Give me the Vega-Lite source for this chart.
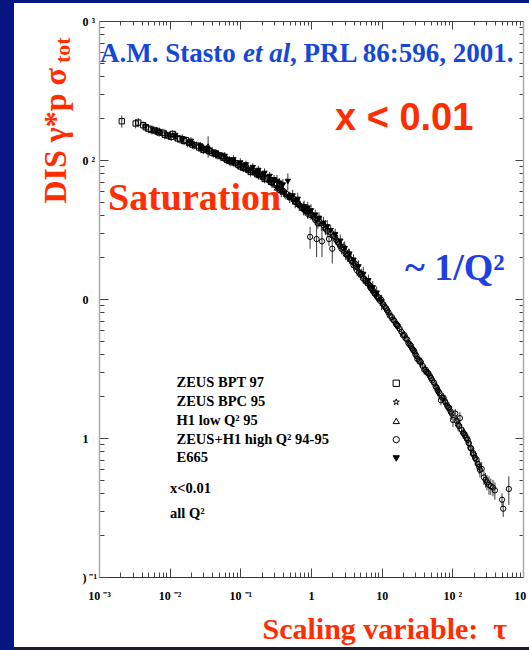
{
  "$schema": "https://vega.github.io/schema/vega-lite/v6.json",
  "width": 424,
  "height": 556,
  "autosize": {"type": "none"},
  "padding": {"left": 99, "top": 21, "right": 6, "bottom": 73},
  "background": "white",
  "config": {"view": {"stroke": null}, "axis": {"grid": false}},
  "datasets": {
    "pts": [
      {"tau":0.0021,"sigma":190,"err":19,"experiment":"ZEUS BPT 97"},
      {"tau":0.0033,"sigma":183,"err":14,"experiment":"ZEUS BPT 97"},
      {"tau":0.0036,"sigma":186,"err":14,"experiment":"ZEUS BPT 97"},
      {"tau":0.0042,"sigma":178,"err":12,"experiment":"ZEUS BPT 97"},
      {"tau":0.0046,"sigma":172,"err":12,"experiment":"ZEUS BPT 97"},
      {"tau":0.0050,"sigma":168,"err":12,"experiment":"ZEUS BPT 97"},
      {"tau":0.0055,"sigma":165,"err":12,"experiment":"ZEUS BPT 97"},
      {"tau":0.0062,"sigma":163,"err":11,"experiment":"ZEUS BPT 97"},
      {"tau":0.0068,"sigma":160,"err":11,"experiment":"ZEUS BPT 97"},
      {"tau":0.0071,"sigma":158,"err":11,"experiment":"ZEUS BPT 97"},
      {"tau":0.0080,"sigma":157,"err":11,"experiment":"ZEUS BPT 97"},
      {"tau":0.0085,"sigma":152,"err":11,"experiment":"ZEUS BPT 97"},
      {"tau":0.0095,"sigma":150,"err":10,"experiment":"ZEUS BPT 97"},
      {"tau":0.0105,"sigma":147,"err":10,"experiment":"ZEUS BPT 97"},
      {"tau":0.011,"sigma":154,"err":10,"experiment":"ZEUS BPT 97"},
      {"tau":0.013,"sigma":143,"err":10,"experiment":"ZEUS BPT 97"},
      {"tau":0.014,"sigma":141,"err":10,"experiment":"ZEUS BPT 97"},
      {"tau":0.016,"sigma":137,"err":9,"experiment":"ZEUS BPT 97"},
      {"tau":0.017,"sigma":139,"err":9,"experiment":"ZEUS BPT 97"},
      {"tau":0.019,"sigma":133,"err":9,"experiment":"ZEUS BPT 97"},
      {"tau":0.021,"sigma":129,"err":9,"experiment":"ZEUS BPT 97"},
      {"tau":0.024,"sigma":127,"err":9,"experiment":"ZEUS BPT 97"},
      {"tau":0.026,"sigma":123,"err":9,"experiment":"ZEUS BPT 97"},
      {"tau":0.028,"sigma":122,"err":8,"experiment":"ZEUS BPT 97"},
      {"tau":0.030,"sigma":118,"err":8,"experiment":"ZEUS BPT 97"},
      {"tau":0.033,"sigma":120,"err":8,"experiment":"ZEUS BPT 97"},
      {"tau":0.036,"sigma":116,"err":8,"experiment":"ZEUS BPT 97"},
      {"tau":0.040,"sigma":113,"err":8,"experiment":"ZEUS BPT 97"},
      {"tau":0.045,"sigma":111,"err":8,"experiment":"ZEUS BPT 97"},
      {"tau":0.050,"sigma":108,"err":7,"experiment":"ZEUS BPT 97"},
      {"tau":0.055,"sigma":107,"err":7,"experiment":"ZEUS BPT 97"},
      {"tau":0.058,"sigma":104,"err":7,"experiment":"ZEUS BPT 97"},
      {"tau":0.065,"sigma":100,"err":7,"experiment":"ZEUS BPT 97"},
      {"tau":0.070,"sigma":99,"err":7,"experiment":"ZEUS BPT 97"},
      {"tau":0.075,"sigma":98,"err":7,"experiment":"ZEUS BPT 97"},
      {"tau":0.085,"sigma":95,"err":7,"experiment":"ZEUS BPT 97"},
      {"tau":0.095,"sigma":92,"err":7,"experiment":"ZEUS BPT 97"},
      {"tau":0.10,"sigma":90,"err":6,"experiment":"ZEUS BPT 97"},
      {"tau":0.11,"sigma":88,"err":6,"experiment":"ZEUS BPT 97"},
      {"tau":0.12,"sigma":87,"err":6,"experiment":"ZEUS BPT 97"},
      {"tau":0.13,"sigma":85,"err":6,"experiment":"ZEUS BPT 97"},
      {"tau":0.14,"sigma":82,"err":6,"experiment":"ZEUS BPT 97"},
      {"tau":0.15,"sigma":83,"err":6,"experiment":"ZEUS BPT 97"},
      {"tau":0.17,"sigma":80,"err":6,"experiment":"ZEUS BPT 97"},
      {"tau":0.18,"sigma":80,"err":6,"experiment":"ZEUS BPT 97"},
      {"tau":0.19,"sigma":78,"err":6,"experiment":"ZEUS BPT 97"},
      {"tau":0.21,"sigma":76,"err":6,"experiment":"ZEUS BPT 97"},
      {"tau":0.22,"sigma":73,"err":5,"experiment":"ZEUS BPT 97"},
      {"tau":0.24,"sigma":74,"err":5,"experiment":"ZEUS BPT 97"},
      {"tau":0.27,"sigma":70,"err":5,"experiment":"ZEUS BPT 97"},
      {"tau":0.30,"sigma":68,"err":5,"experiment":"ZEUS BPT 97"},
      {"tau":0.33,"sigma":66,"err":5,"experiment":"ZEUS BPT 97"},
      {"tau":0.37,"sigma":61,"err":5,"experiment":"ZEUS BPT 97"},
      {"tau":0.0045,"sigma":175,"err":12,"experiment":"ZEUS BPC 95"},
      {"tau":0.0058,"sigma":165,"err":12,"experiment":"ZEUS BPC 95"},
      {"tau":0.0065,"sigma":162,"err":11,"experiment":"ZEUS BPC 95"},
      {"tau":0.0072,"sigma":160,"err":11,"experiment":"ZEUS BPC 95"},
      {"tau":0.0090,"sigma":153,"err":11,"experiment":"ZEUS BPC 95"},
      {"tau":0.010,"sigma":150,"err":10,"experiment":"ZEUS BPC 95"},
      {"tau":0.012,"sigma":146,"err":10,"experiment":"ZEUS BPC 95"},
      {"tau":0.015,"sigma":140,"err":10,"experiment":"ZEUS BPC 95"},
      {"tau":0.018,"sigma":132,"err":9,"experiment":"ZEUS BPC 95"},
      {"tau":0.020,"sigma":133,"err":9,"experiment":"ZEUS BPC 95"},
      {"tau":0.022,"sigma":128,"err":9,"experiment":"ZEUS BPC 95"},
      {"tau":0.027,"sigma":125,"err":9,"experiment":"ZEUS BPC 95"},
      {"tau":0.030,"sigma":122,"err":8,"experiment":"ZEUS BPC 95"},
      {"tau":0.034,"sigma":118,"err":8,"experiment":"ZEUS BPC 95"},
      {"tau":0.042,"sigma":112,"err":8,"experiment":"ZEUS BPC 95"},
      {"tau":0.047,"sigma":109,"err":8,"experiment":"ZEUS BPC 95"},
      {"tau":0.052,"sigma":106,"err":7,"experiment":"ZEUS BPC 95"},
      {"tau":0.065,"sigma":101,"err":7,"experiment":"ZEUS BPC 95"},
      {"tau":0.072,"sigma":97,"err":7,"experiment":"ZEUS BPC 95"},
      {"tau":0.080,"sigma":97,"err":7,"experiment":"ZEUS BPC 95"},
      {"tau":0.10,"sigma":92,"err":6,"experiment":"ZEUS BPC 95"},
      {"tau":0.115,"sigma":90,"err":6,"experiment":"ZEUS BPC 95"},
      {"tau":0.13,"sigma":86,"err":6,"experiment":"ZEUS BPC 95"},
      {"tau":0.16,"sigma":81,"err":6,"experiment":"ZEUS BPC 95"},
      {"tau":0.18,"sigma":79,"err":6,"experiment":"ZEUS BPC 95"},
      {"tau":0.20,"sigma":77,"err":5,"experiment":"ZEUS BPC 95"},
      {"tau":0.26,"sigma":71,"err":5,"experiment":"ZEUS BPC 95"},
      {"tau":0.29,"sigma":68,"err":5,"experiment":"ZEUS BPC 95"},
      {"tau":0.33,"sigma":64,"err":5,"experiment":"ZEUS BPC 95"},
      {"tau":0.38,"sigma":61,"err":5,"experiment":"ZEUS BPC 95"},
      {"tau":0.42,"sigma":58,"err":5,"experiment":"ZEUS BPC 95"},
      {"tau":0.48,"sigma":55,"err":4,"experiment":"ZEUS BPC 95"},
      {"tau":0.55,"sigma":52,"err":4,"experiment":"ZEUS BPC 95"},
      {"tau":0.62,"sigma":50,"err":4,"experiment":"ZEUS BPC 95"},
      {"tau":0.70,"sigma":47,"err":4,"experiment":"ZEUS BPC 95"},
      {"tau":0.80,"sigma":44,"err":4,"experiment":"ZEUS BPC 95"},
      {"tau":0.90,"sigma":42,"err":4,"experiment":"ZEUS BPC 95"},
      {"tau":0.030,"sigma":121,"err":8,"experiment":"H1 low Q² 95"},
      {"tau":0.035,"sigma":126,"err":22,"experiment":"H1 low Q² 95"},
      {"tau":0.040,"sigma":116,"err":8,"experiment":"H1 low Q² 95"},
      {"tau":0.045,"sigma":110,"err":8,"experiment":"H1 low Q² 95"},
      {"tau":0.060,"sigma":103,"err":7,"experiment":"H1 low Q² 95"},
      {"tau":0.070,"sigma":99,"err":7,"experiment":"H1 low Q² 95"},
      {"tau":0.085,"sigma":96,"err":7,"experiment":"H1 low Q² 95"},
      {"tau":0.11,"sigma":89,"err":7,"experiment":"H1 low Q² 95"},
      {"tau":0.13,"sigma":87,"err":6,"experiment":"H1 low Q² 95"},
      {"tau":0.15,"sigma":84,"err":6,"experiment":"H1 low Q² 95"},
      {"tau":0.18,"sigma":78,"err":6,"experiment":"H1 low Q² 95"},
      {"tau":0.21,"sigma":76,"err":6,"experiment":"H1 low Q² 95"},
      {"tau":0.25,"sigma":72,"err":6,"experiment":"H1 low Q² 95"},
      {"tau":0.28,"sigma":69,"err":6,"experiment":"H1 low Q² 95"},
      {"tau":0.33,"sigma":63,"err":6,"experiment":"H1 low Q² 95"},
      {"tau":0.38,"sigma":60,"err":6,"experiment":"H1 low Q² 95"},
      {"tau":0.44,"sigma":57,"err":5,"experiment":"H1 low Q² 95"},
      {"tau":0.50,"sigma":54,"err":5,"experiment":"H1 low Q² 95"},
      {"tau":0.60,"sigma":50,"err":5,"experiment":"H1 low Q² 95"},
      {"tau":0.68,"sigma":48,"err":5,"experiment":"H1 low Q² 95"},
      {"tau":0.78,"sigma":45,"err":5,"experiment":"H1 low Q² 95"},
      {"tau":0.90,"sigma":43,"err":5,"experiment":"H1 low Q² 95"},
      {"tau":1.05,"sigma":41,"err":4,"experiment":"H1 low Q² 95"},
      {"tau":1.2,"sigma":38,"err":4,"experiment":"H1 low Q² 95"},
      {"tau":1.4,"sigma":35,"err":4,"experiment":"H1 low Q² 95"},
      {"tau":1.6,"sigma":33,"err":4,"experiment":"H1 low Q² 95"},
      {"tau":0.35,"sigma":63,"err":4,"experiment":"ZEUS+H1 high Q² 94-95"},
      {"tau":0.40,"sigma":60,"err":4,"experiment":"ZEUS+H1 high Q² 94-95"},
      {"tau":0.45,"sigma":57,"err":4,"experiment":"ZEUS+H1 high Q² 94-95"},
      {"tau":0.50,"sigma":55,"err":4,"experiment":"ZEUS+H1 high Q² 94-95"},
      {"tau":0.55,"sigma":53,"err":4,"experiment":"ZEUS+H1 high Q² 94-95"},
      {"tau":0.60,"sigma":50,"err":4,"experiment":"ZEUS+H1 high Q² 94-95"},
      {"tau":0.65,"sigma":49,"err":4,"experiment":"ZEUS+H1 high Q² 94-95"},
      {"tau":0.70,"sigma":47,"err":3,"experiment":"ZEUS+H1 high Q² 94-95"},
      {"tau":0.75,"sigma":45,"err":3,"experiment":"ZEUS+H1 high Q² 94-95"},
      {"tau":0.80,"sigma":44,"err":3,"experiment":"ZEUS+H1 high Q² 94-95"},
      {"tau":0.85,"sigma":43,"err":3,"experiment":"ZEUS+H1 high Q² 94-95"},
      {"tau":0.90,"sigma":41,"err":3,"experiment":"ZEUS+H1 high Q² 94-95"},
      {"tau":0.97,"sigma":28,"err":5,"experiment":"ZEUS+H1 high Q² 94-95"},
      {"tau":1.0,"sigma":40,"err":3,"experiment":"ZEUS+H1 high Q² 94-95"},
      {"tau":1.1,"sigma":39,"err":3,"experiment":"ZEUS+H1 high Q² 94-95"},
      {"tau":1.15,"sigma":37,"err":3,"experiment":"ZEUS+H1 high Q² 94-95"},
      {"tau":1.2,"sigma":27,"err":7,"experiment":"ZEUS+H1 high Q² 94-95"},
      {"tau":1.25,"sigma":35,"err":3,"experiment":"ZEUS+H1 high Q² 94-95"},
      {"tau":1.3,"sigma":36,"err":3,"experiment":"ZEUS+H1 high Q² 94-95"},
      {"tau":1.43,"sigma":26,"err":6,"experiment":"ZEUS+H1 high Q² 94-95"},
      {"tau":1.5,"sigma":34,"err":3,"experiment":"ZEUS+H1 high Q² 94-95"},
      {"tau":1.6,"sigma":32,"err":3,"experiment":"ZEUS+H1 high Q² 94-95"},
      {"tau":1.7,"sigma":31,"err":3,"experiment":"ZEUS+H1 high Q² 94-95"},
      {"tau":1.8,"sigma":27,"err":3,"experiment":"ZEUS+H1 high Q² 94-95"},
      {"tau":1.9,"sigma":30,"err":2.5,"experiment":"ZEUS+H1 high Q² 94-95"},
      {"tau":2.0,"sigma":23,"err":5,"experiment":"ZEUS+H1 high Q² 94-95"},
      {"tau":2.1,"sigma":28.5,"err":2.5,"experiment":"ZEUS+H1 high Q² 94-95"},
      {"tau":2.2,"sigma":28,"err":2.5,"experiment":"ZEUS+H1 high Q² 94-95"},
      {"tau":2.3,"sigma":26.5,"err":2,"experiment":"ZEUS+H1 high Q² 94-95"},
      {"tau":2.4,"sigma":25.5,"err":2,"experiment":"ZEUS+H1 high Q² 94-95"},
      {"tau":2.5,"sigma":25,"err":2,"experiment":"ZEUS+H1 high Q² 94-95"},
      {"tau":2.6,"sigma":24,"err":2,"experiment":"ZEUS+H1 high Q² 94-95"},
      {"tau":2.7,"sigma":23,"err":2,"experiment":"ZEUS+H1 high Q² 94-95"},
      {"tau":2.9,"sigma":23.5,"err":2,"experiment":"ZEUS+H1 high Q² 94-95"},
      {"tau":3.0,"sigma":22,"err":2,"experiment":"ZEUS+H1 high Q² 94-95"},
      {"tau":3.1,"sigma":21,"err":2,"experiment":"ZEUS+H1 high Q² 94-95"},
      {"tau":3.3,"sigma":20.5,"err":2,"experiment":"ZEUS+H1 high Q² 94-95"},
      {"tau":3.4,"sigma":21,"err":2,"experiment":"ZEUS+H1 high Q² 94-95"},
      {"tau":3.5,"sigma":19.5,"err":1.6,"experiment":"ZEUS+H1 high Q² 94-95"},
      {"tau":3.7,"sigma":19,"err":1.5,"experiment":"ZEUS+H1 high Q² 94-95"},
      {"tau":3.9,"sigma":18.5,"err":1.5,"experiment":"ZEUS+H1 high Q² 94-95"},
      {"tau":4.0,"sigma":17.5,"err":1.5,"experiment":"ZEUS+H1 high Q² 94-95"},
      {"tau":4.2,"sigma":18,"err":1.5,"experiment":"ZEUS+H1 high Q² 94-95"},
      {"tau":4.4,"sigma":17,"err":1.4,"experiment":"ZEUS+H1 high Q² 94-95"},
      {"tau":4.5,"sigma":16,"err":1.4,"experiment":"ZEUS+H1 high Q² 94-95"},
      {"tau":4.8,"sigma":15.5,"err":1.3,"experiment":"ZEUS+H1 high Q² 94-95"},
      {"tau":5.0,"sigma":15,"err":1.3,"experiment":"ZEUS+H1 high Q² 94-95"},
      {"tau":5.2,"sigma":15.2,"err":1.3,"experiment":"ZEUS+H1 high Q² 94-95"},
      {"tau":5.5,"sigma":14,"err":1.2,"experiment":"ZEUS+H1 high Q² 94-95"},
      {"tau":5.8,"sigma":13.8,"err":1.1,"experiment":"ZEUS+H1 high Q² 94-95"},
      {"tau":6.0,"sigma":13.5,"err":1.1,"experiment":"ZEUS+H1 high Q² 94-95"},
      {"tau":6.3,"sigma":13,"err":1.1,"experiment":"ZEUS+H1 high Q² 94-95"},
      {"tau":6.5,"sigma":12.8,"err":1.0,"experiment":"ZEUS+H1 high Q² 94-95"},
      {"tau":6.8,"sigma":12.5,"err":1.0,"experiment":"ZEUS+H1 high Q² 94-95"},
      {"tau":7.0,"sigma":12,"err":1.0,"experiment":"ZEUS+H1 high Q² 94-95"},
      {"tau":7.2,"sigma":11.8,"err":1.0,"experiment":"ZEUS+H1 high Q² 94-95"},
      {"tau":7.5,"sigma":11.5,"err":1.0,"experiment":"ZEUS+H1 high Q² 94-95"},
      {"tau":8.0,"sigma":11,"err":0.9,"experiment":"ZEUS+H1 high Q² 94-95"},
      {"tau":8.2,"sigma":10.8,"err":0.9,"experiment":"ZEUS+H1 high Q² 94-95"},
      {"tau":8.5,"sigma":10.5,"err":0.9,"experiment":"ZEUS+H1 high Q² 94-95"},
      {"tau":9.0,"sigma":10.3,"err":0.8,"experiment":"ZEUS+H1 high Q² 94-95"},
      {"tau":9.5,"sigma":9.7,"err":0.8,"experiment":"ZEUS+H1 high Q² 94-95"},
      {"tau":9.8,"sigma":9.9,"err":0.8,"experiment":"ZEUS+H1 high Q² 94-95"},
      {"tau":10.5,"sigma":9.2,"err":0.7,"experiment":"ZEUS+H1 high Q² 94-95"},
      {"tau":11,"sigma":8.8,"err":0.7,"experiment":"ZEUS+H1 high Q² 94-95"},
      {"tau":11.5,"sigma":8.6,"err":0.7,"experiment":"ZEUS+H1 high Q² 94-95"},
      {"tau":12,"sigma":8.3,"err":0.6,"experiment":"ZEUS+H1 high Q² 94-95"},
      {"tau":12.5,"sigma":8.0,"err":0.6,"experiment":"ZEUS+H1 high Q² 94-95"},
      {"tau":13,"sigma":7.6,"err":0.6,"experiment":"ZEUS+H1 high Q² 94-95"},
      {"tau":14,"sigma":7.4,"err":0.6,"experiment":"ZEUS+H1 high Q² 94-95"},
      {"tau":14.5,"sigma":7.1,"err":0.5,"experiment":"ZEUS+H1 high Q² 94-95"},
      {"tau":15,"sigma":7.0,"err":0.5,"experiment":"ZEUS+H1 high Q² 94-95"},
      {"tau":16,"sigma":6.6,"err":0.5,"experiment":"ZEUS+H1 high Q² 94-95"},
      {"tau":16.5,"sigma":6.5,"err":0.5,"experiment":"ZEUS+H1 high Q² 94-95"},
      {"tau":17,"sigma":6.4,"err":0.5,"experiment":"ZEUS+H1 high Q² 94-95"},
      {"tau":18,"sigma":6.1,"err":0.5,"experiment":"ZEUS+H1 high Q² 94-95"},
      {"tau":19,"sigma":5.8,"err":0.4,"experiment":"ZEUS+H1 high Q² 94-95"},
      {"tau":20,"sigma":5.5,"err":0.4,"experiment":"ZEUS+H1 high Q² 94-95"},
      {"tau":21,"sigma":5.5,"err":0.4,"experiment":"ZEUS+H1 high Q² 94-95"},
      {"tau":22,"sigma":5.2,"err":0.4,"experiment":"ZEUS+H1 high Q² 94-95"},
      {"tau":23,"sigma":5.1,"err":0.4,"experiment":"ZEUS+H1 high Q² 94-95"},
      {"tau":24,"sigma":4.8,"err":0.35,"experiment":"ZEUS+H1 high Q² 94-95"},
      {"tau":25,"sigma":4.7,"err":0.35,"experiment":"ZEUS+H1 high Q² 94-95"},
      {"tau":26,"sigma":4.6,"err":0.35,"experiment":"ZEUS+H1 high Q² 94-95"},
      {"tau":27,"sigma":4.4,"err":0.3,"experiment":"ZEUS+H1 high Q² 94-95"},
      {"tau":28,"sigma":4.3,"err":0.3,"experiment":"ZEUS+H1 high Q² 94-95"},
      {"tau":29,"sigma":4.2,"err":0.3,"experiment":"ZEUS+H1 high Q² 94-95"},
      {"tau":30,"sigma":4.0,"err":0.3,"experiment":"ZEUS+H1 high Q² 94-95"},
      {"tau":31,"sigma":3.9,"err":0.3,"experiment":"ZEUS+H1 high Q² 94-95"},
      {"tau":32,"sigma":3.7,"err":0.3,"experiment":"ZEUS+H1 high Q² 94-95"},
      {"tau":34,"sigma":3.6,"err":0.25,"experiment":"ZEUS+H1 high Q² 94-95"},
      {"tau":35,"sigma":3.55,"err":0.3,"experiment":"ZEUS+H1 high Q² 94-95"},
      {"tau":36,"sigma":3.5,"err":0.3,"experiment":"ZEUS+H1 high Q² 94-95"},
      {"tau":38,"sigma":3.3,"err":0.25,"experiment":"ZEUS+H1 high Q² 94-95"},
      {"tau":40,"sigma":3.1,"err":0.25,"experiment":"ZEUS+H1 high Q² 94-95"},
      {"tau":42,"sigma":3.1,"err":0.25,"experiment":"ZEUS+H1 high Q² 94-95"},
      {"tau":43,"sigma":3.0,"err":0.2,"experiment":"ZEUS+H1 high Q² 94-95"},
      {"tau":45,"sigma":2.95,"err":0.2,"experiment":"ZEUS+H1 high Q² 94-95"},
      {"tau":46,"sigma":2.9,"err":0.2,"experiment":"ZEUS+H1 high Q² 94-95"},
      {"tau":48,"sigma":2.8,"err":0.2,"experiment":"ZEUS+H1 high Q² 94-95"},
      {"tau":50,"sigma":2.7,"err":0.2,"experiment":"ZEUS+H1 high Q² 94-95"},
      {"tau":52,"sigma":2.6,"err":0.2,"experiment":"ZEUS+H1 high Q² 94-95"},
      {"tau":55,"sigma":2.5,"err":0.2,"experiment":"ZEUS+H1 high Q² 94-95"},
      {"tau":58,"sigma":2.35,"err":0.2,"experiment":"ZEUS+H1 high Q² 94-95"},
      {"tau":60,"sigma":2.3,"err":0.2,"experiment":"ZEUS+H1 high Q² 94-95"},
      {"tau":62,"sigma":2.2,"err":0.2,"experiment":"ZEUS+H1 high Q² 94-95"},
      {"tau":64,"sigma":2.15,"err":0.2,"experiment":"ZEUS+H1 high Q² 94-95"},
      {"tau":66,"sigma":2.1,"err":0.2,"experiment":"ZEUS+H1 high Q² 94-95"},
      {"tau":69,"sigma":1.87,"err":0.15,"experiment":"ZEUS+H1 high Q² 94-95"},
      {"tau":72,"sigma":1.95,"err":0.15,"experiment":"ZEUS+H1 high Q² 94-95"},
      {"tau":75,"sigma":1.95,"err":0.15,"experiment":"ZEUS+H1 high Q² 94-95"},
      {"tau":78,"sigma":1.85,"err":0.15,"experiment":"ZEUS+H1 high Q² 94-95"},
      {"tau":80,"sigma":1.8,"err":0.15,"experiment":"ZEUS+H1 high Q² 94-95"},
      {"tau":85,"sigma":1.7,"err":0.15,"experiment":"ZEUS+H1 high Q² 94-95"},
      {"tau":88,"sigma":1.65,"err":0.15,"experiment":"ZEUS+H1 high Q² 94-95"},
      {"tau":90,"sigma":1.65,"err":0.15,"experiment":"ZEUS+H1 high Q² 94-95"},
      {"tau":95,"sigma":1.55,"err":0.15,"experiment":"ZEUS+H1 high Q² 94-95"},
      {"tau":98,"sigma":1.5,"err":0.15,"experiment":"ZEUS+H1 high Q² 94-95"},
      {"tau":102,"sigma":1.35,"err":0.15,"experiment":"ZEUS+H1 high Q² 94-95"},
      {"tau":110,"sigma":1.5,"err":0.12,"experiment":"ZEUS+H1 high Q² 94-95"},
      {"tau":115,"sigma":1.33,"err":0.12,"experiment":"ZEUS+H1 high Q² 94-95"},
      {"tau":120,"sigma":1.25,"err":0.12,"experiment":"ZEUS+H1 high Q² 94-95"},
      {"tau":125,"sigma":1.22,"err":0.12,"experiment":"ZEUS+H1 high Q² 94-95"},
      {"tau":128,"sigma":1.39,"err":0.15,"experiment":"ZEUS+H1 high Q² 94-95"},
      {"tau":135,"sigma":1.15,"err":0.1,"experiment":"ZEUS+H1 high Q² 94-95"},
      {"tau":142,"sigma":1.09,"err":0.1,"experiment":"ZEUS+H1 high Q² 94-95"},
      {"tau":145,"sigma":1.08,"err":0.1,"experiment":"ZEUS+H1 high Q² 94-95"},
      {"tau":150,"sigma":1.05,"err":0.1,"experiment":"ZEUS+H1 high Q² 94-95"},
      {"tau":160,"sigma":1.0,"err":0.1,"experiment":"ZEUS+H1 high Q² 94-95"},
      {"tau":165,"sigma":0.97,"err":0.1,"experiment":"ZEUS+H1 high Q² 94-95"},
      {"tau":170,"sigma":0.92,"err":0.1,"experiment":"ZEUS+H1 high Q² 94-95"},
      {"tau":180,"sigma":0.85,"err":0.1,"experiment":"ZEUS+H1 high Q² 94-95"},
      {"tau":185,"sigma":0.84,"err":0.1,"experiment":"ZEUS+H1 high Q² 94-95"},
      {"tau":196,"sigma":0.78,"err":0.08,"experiment":"ZEUS+H1 high Q² 94-95"},
      {"tau":200,"sigma":0.76,"err":0.08,"experiment":"ZEUS+H1 high Q² 94-95"},
      {"tau":210,"sigma":0.72,"err":0.08,"experiment":"ZEUS+H1 high Q² 94-95"},
      {"tau":220,"sigma":0.7,"err":0.08,"experiment":"ZEUS+H1 high Q² 94-95"},
      {"tau":230,"sigma":0.65,"err":0.07,"experiment":"ZEUS+H1 high Q² 94-95"},
      {"tau":240,"sigma":0.62,"err":0.07,"experiment":"ZEUS+H1 high Q² 94-95"},
      {"tau":246,"sigma":0.59,"err":0.07,"experiment":"ZEUS+H1 high Q² 94-95"},
      {"tau":260,"sigma":0.6,"err":0.07,"experiment":"ZEUS+H1 high Q² 94-95"},
      {"tau":280,"sigma":0.52,"err":0.06,"experiment":"ZEUS+H1 high Q² 94-95"},
      {"tau":295,"sigma":0.5,"err":0.06,"experiment":"ZEUS+H1 high Q² 94-95"},
      {"tau":309,"sigma":0.48,"err":0.06,"experiment":"ZEUS+H1 high Q² 94-95"},
      {"tau":330,"sigma":0.46,"err":0.07,"experiment":"ZEUS+H1 high Q² 94-95"},
      {"tau":350,"sigma":0.45,"err":0.06,"experiment":"ZEUS+H1 high Q² 94-95"},
      {"tau":376,"sigma":0.44,"err":0.06,"experiment":"ZEUS+H1 high Q² 94-95"},
      {"tau":400,"sigma":0.42,"err":0.06,"experiment":"ZEUS+H1 high Q² 94-95"},
      {"tau":505,"sigma":0.36,"err":0.04,"experiment":"ZEUS+H1 high Q² 94-95"},
      {"tau":525,"sigma":0.31,"err":0.04,"experiment":"ZEUS+H1 high Q² 94-95"},
      {"tau":630,"sigma":0.43,"err":0.1,"experiment":"ZEUS+H1 high Q² 94-95"},
      {"tau":0.012,"sigma":150,"err":12,"experiment":"E665"},
      {"tau":0.015,"sigma":142,"err":11,"experiment":"E665"},
      {"tau":0.02,"sigma":136,"err":10,"experiment":"E665"},
      {"tau":0.027,"sigma":126,"err":9,"experiment":"E665"},
      {"tau":0.035,"sigma":118,"err":9,"experiment":"E665"},
      {"tau":0.045,"sigma":112,"err":8,"experiment":"E665"},
      {"tau":0.06,"sigma":106,"err":8,"experiment":"E665"},
      {"tau":0.08,"sigma":100,"err":8,"experiment":"E665"},
      {"tau":0.10,"sigma":95,"err":8,"experiment":"E665"},
      {"tau":0.12,"sigma":92,"err":7,"experiment":"E665"},
      {"tau":0.15,"sigma":88,"err":7,"experiment":"E665"},
      {"tau":0.18,"sigma":84,"err":7,"experiment":"E665"},
      {"tau":0.22,"sigma":80,"err":7,"experiment":"E665"},
      {"tau":0.26,"sigma":76,"err":6,"experiment":"E665"},
      {"tau":0.30,"sigma":72,"err":6,"experiment":"E665"},
      {"tau":0.33,"sigma":70,"err":8,"experiment":"E665"},
      {"tau":0.36,"sigma":68,"err":6,"experiment":"E665"},
      {"tau":0.40,"sigma":66,"err":7,"experiment":"E665"},
      {"tau":0.47,"sigma":70,"err":10,"experiment":"E665"},
      {"tau":0.55,"sigma":55,"err":6,"experiment":"E665"},
      {"tau":0.65,"sigma":52,"err":6,"experiment":"E665"},
      {"tau":0.80,"sigma":46,"err":5,"experiment":"E665"},
      {"tau":0.90,"sigma":45,"err":5,"experiment":"E665"},
      {"tau":1.0,"sigma":43,"err":5,"experiment":"E665"},
      {"tau":1.15,"sigma":40,"err":4,"experiment":"E665"},
      {"tau":1.3,"sigma":38,"err":4,"experiment":"E665"},
      {"tau":1.5,"sigma":35,"err":4,"experiment":"E665"},
      {"tau":1.7,"sigma":33,"err":4,"experiment":"E665"},
      {"tau":1.9,"sigma":31,"err":3,"experiment":"E665"},
      {"tau":2.2,"sigma":29,"err":3,"experiment":"E665"},
      {"tau":2.6,"sigma":26,"err":3,"experiment":"E665"},
      {"tau":3.0,"sigma":23,"err":3,"experiment":"E665"},
      {"tau":3.5,"sigma":21,"err":2,"experiment":"E665"},
      {"tau":4.0,"sigma":19,"err":2,"experiment":"E665"},
      {"tau":4.7,"sigma":17,"err":2,"experiment":"E665"},
      {"tau":5.5,"sigma":15,"err":2,"experiment":"E665"},
      {"tau":6.5,"sigma":13.5,"err":1.5,"experiment":"E665"},
      {"tau":7.5,"sigma":12,"err":1.5,"experiment":"E665"},
      {"tau":8.5,"sigma":11,"err":1.3,"experiment":"E665"},
      {"tau":10,"sigma":9.5,"err":1.2,"experiment":"E665"}
    ]
  },
  "data": {"name": "pts"},
  "resolve": {"axis": {"x": "independent", "y": "independent"}},
  "layer": [
    {
      "data": {"values": [{}]},
      "mark": {"type": "rect", "color": "#06157f"},
      "encoding": {
        "x": {"datum": 1e-6, "type": "quantitative", "scale": {"type": "log", "domain": [0.001, 1000], "nice": false}, "axis": null},
        "x2": {"datum": 6.27e-5},
        "y": {"datum": 1e-4, "type": "quantitative", "scale": {"type": "log", "domain": [0.1, 1000], "nice": false}, "axis": null},
        "y2": {"datum": 1e6}
      }
    },
    {
      "data": {"values": [{}]},
      "mark": {"type": "rect", "color": "#06157f"},
      "encoding": {
        "x": {"datum": 1e-6, "type": "quantitative", "scale": {"type": "log", "domain": [0.001, 1000], "nice": false}, "axis": null},
        "x2": {"datum": 1e6},
        "y": {"datum": 1346, "type": "quantitative", "scale": {"type": "log", "domain": [0.1, 1000], "nice": false}, "axis": null},
        "y2": {"datum": 1e6}
      }
    },
    {
      "data": {"values": [{}]},
      "mark": {"type": "rect", "color": "#1c1c24"},
      "encoding": {
        "x": {"datum": 6.27e-5, "type": "quantitative", "scale": {"type": "log", "domain": [0.001, 1000], "nice": false}, "axis": null},
        "x2": {"datum": 1e6},
        "y": {"datum": 1e-4, "type": "quantitative", "scale": {"type": "log", "domain": [0.1, 1000], "nice": false}, "axis": null},
        "y2": {"datum": 0.03135}
      }
    },
    {
      "mark": {"type": "errorbar", "ticks": false, "color": "#222", "thickness": 0.9},
      "encoding": {
        "x": {
          "field": "tau", "type": "quantitative",
          "scale": {"type": "log", "domain": [0.001, 1000], "nice": false},
          "axis": {
            "orient": "top", "title": null, "labels": false,
            "values": [0.001,0.002,0.003,0.004,0.005,0.006,0.007,0.008,0.009,0.01,0.02,0.03,0.04,0.05,0.06,0.07,0.08,0.09,0.1,0.2,0.3,0.4,0.5,0.6,0.7,0.8,0.9,1,2,3,4,5,6,7,8,9,10,20,30,40,50,60,70,80,90,100,200,300,400,500,600,700,800,900,1000],
            "domainColor": "#444", "domainWidth": 1, "tickColor": "#444", "tickWidth": 1,
            "tickSize": {"condition": {"test": "abs(log(datum.value)/LN10 - round(log(datum.value)/LN10)) < 0.01", "value": -8}, "value": -4}
          }
        },
        "y": {
          "field": "sigma", "type": "quantitative",
          "scale": {"type": "log", "domain": [0.1, 1000], "nice": false},
          "axis": {
            "orient": "right", "title": null, "labels": false,
            "values": [0.1,0.2,0.3,0.4,0.5,0.6,0.7,0.8,0.9,1,2,3,4,5,6,7,8,9,10,20,30,40,50,60,70,80,90,100,200,300,400,500,600,700,800,900,1000],
            "domainColor": "#aaa", "domainWidth": 1.5, "tickColor": "#444", "tickWidth": 1,
            "tickSize": {"condition": {"test": "abs(log(datum.value)/LN10 - round(log(datum.value)/LN10)) < 0.01", "value": -8}, "value": -4}
          }
        },
        "yError": {"field": "err"}
      }
    },
    {
      "mark": {"type": "point", "filled": true, "strokeWidth": 1, "size": 28, "opacity": 1},
      "encoding": {
        "x": {
          "field": "tau", "type": "quantitative",
          "scale": {"type": "log", "domain": [0.001, 1000], "nice": false},
          "axis": {
            "orient": "bottom",
            "title": "Scaling variable: \u00a0τ",
            "titleFont": "Liberation Serif", "titleFontWeight": "bold", "titleFontSize": 30, "titleColor": "#ff2d00",
            "titleX": 163, "titleY": 61, "titleAlign": "left", "titleBaseline": "alphabetic",
            "values": [0.001,0.002,0.003,0.004,0.005,0.006,0.007,0.008,0.009,0.01,0.02,0.03,0.04,0.05,0.06,0.07,0.08,0.09,0.1,0.2,0.3,0.4,0.5,0.6,0.7,0.8,0.9,1,2,3,4,5,6,7,8,9,10,20,30,40,50,60,70,80,90,100,200,300,400,500,600,700,800,900,1000],
            "labelExpr": "datum.value==0.001?'10 ⁻³':datum.value==0.01?'10 ⁻²':datum.value==0.1?'10 ⁻¹':datum.value==1?'1':datum.value==10?'10':datum.value==100?'10 ²':datum.value==1000?'10 ³':''",
            "labelFont": "Liberation Serif", "labelFontWeight": "bold", "labelFontSize": 12, "labelColor": "black",
            "labelPadding": 22, "labelFlush": false, "labelOverlap": false,
            "domainColor": "#333", "domainWidth": 1, "tickColor": "#444", "tickWidth": 1,
            "tickSize": {"condition": {"test": "abs(log(datum.value)/LN10 - round(log(datum.value)/LN10)) < 0.01", "value": -9}, "value": -5}
          }
        },
        "y": {
          "field": "sigma", "type": "quantitative",
          "scale": {"type": "log", "domain": [0.1, 1000], "nice": false},
          "axis": {
            "orient": "left",
            "title": "DIS γ*p σ",
            "titleFont": "Liberation Serif", "titleFontWeight": "bold", "titleFontSize": 32, "titleColor": "#ff2d00",
            "titleX": -34, "titleY": 182, "titleAngle": 270, "titleAlign": "left", "titleBaseline": "alphabetic",
            "values": [0.1,0.2,0.3,0.4,0.5,0.6,0.7,0.8,0.9,1,2,3,4,5,6,7,8,9,10,20,30,40,50,60,70,80,90,100,200,300,400,500,600,700,800,900,1000],
            "labelExpr": "datum.value==1000?'0 ³':datum.value==100?'0 ²':datum.value==10?'0':datum.value==1?'1':datum.value==0.1?') ⁻¹':''",
            "labelFont": "Liberation Serif", "labelFontWeight": "bold", "labelFontSize": 12, "labelColor": "black",
            "labelAlign": "left", "labelPadding": 26, "labelFlush": false, "labelOverlap": false,
            "domainColor": "#aaa", "domainWidth": 1.5, "tickColor": "#444", "tickWidth": 1,
            "tickSize": {"condition": {"test": "abs(log(datum.value)/LN10 - round(log(datum.value)/LN10)) < 0.01", "value": -9}, "value": -5}
          }
        },
        "shape": {
          "field": "experiment", "type": "nominal",
          "scale": {
            "domain": ["ZEUS BPT 97", "ZEUS BPC 95", "H1 low Q² 95", "ZEUS+H1 high Q² 94-95", "E665"],
            "range": ["square", "M0,-1L0.224,-0.309L0.951,-0.309L0.363,0.118L0.588,0.809L0,0.382L-0.588,0.809L-0.363,0.118L-0.951,-0.309L-0.224,-0.309Z", "triangle-up", "circle", "triangle-down"]
          },
          "legend": {
            "title": null, "orient": "none", "legendX": 290, "legendY": 355, "padding": 0,
            "labelOffset": -227, "labelAlign": "left", "labelBaseline": "middle",
            "labelFont": "Liberation Serif", "labelFontWeight": "bold", "labelFontSize": 14.5, "labelColor": "black", "labelLimit": 400,
            "symbolSize": 40, "symbolStrokeWidth": 1, "rowPadding": 3.8
          }
        },
        "fill": {
          "field": "experiment", "type": "nominal",
          "scale": {
            "domain": ["ZEUS BPT 97", "ZEUS BPC 95", "H1 low Q² 95", "ZEUS+H1 high Q² 94-95", "E665"],
            "range": ["transparent", "transparent", "transparent", "transparent", "black"]
          },
          "legend": {
            "title": null, "orient": "none", "legendX": 290, "legendY": 355, "padding": 0,
            "labelOffset": -227, "labelAlign": "left", "labelBaseline": "middle",
            "labelFont": "Liberation Serif", "labelFontWeight": "bold", "labelFontSize": 14.5, "labelColor": "black", "labelLimit": 400,
            "symbolSize": 40, "symbolStrokeWidth": 1, "rowPadding": 3.8
          }
        },
        "stroke": {
          "field": "experiment", "type": "nominal",
          "scale": {
            "domain": ["ZEUS BPT 97", "ZEUS BPC 95", "H1 low Q² 95", "ZEUS+H1 high Q² 94-95", "E665"],
            "range": ["black", "black", "black", "black", "black"]
          },
          "legend": {
            "title": null, "orient": "none", "legendX": 290, "legendY": 355, "padding": 0,
            "labelOffset": -227, "labelAlign": "left", "labelBaseline": "middle",
            "labelFont": "Liberation Serif", "labelFontWeight": "bold", "labelFontSize": 14.5, "labelColor": "black", "labelLimit": 400,
            "symbolSize": 40, "symbolStrokeWidth": 1, "rowPadding": 3.8
          }
        }
      }
    },
    {
      "data": {"values": [{}]},
      "mark": {"type": "text", "text": "A.M. Stasto", "font": "Liberation Serif", "fontWeight": "bold", "fontSize": 27, "color": "#1448d6", "align": "left", "baseline": "alphabetic"},
      "encoding": {
        "x": {"datum": 0.001033, "type": "quantitative", "scale": {"type": "log", "domain": [0.001, 1000], "nice": false}, "axis": null},
        "y": {"datum": 507, "type": "quantitative", "scale": {"type": "log", "domain": [0.1, 1000], "nice": false}, "axis": null}
      }
    },
    {
      "data": {"values": [{}]},
      "mark": {"type": "text", "text": "et al", "font": "Liberation Serif", "fontWeight": "bold", "fontStyle": "italic", "fontSize": 27, "color": "#1448d6", "align": "left", "baseline": "alphabetic"},
      "encoding": {
        "x": {"datum": 0.109, "type": "quantitative", "scale": {"type": "log", "domain": [0.001, 1000], "nice": false}, "axis": null},
        "y": {"datum": 507, "type": "quantitative", "scale": {"type": "log", "domain": [0.1, 1000], "nice": false}, "axis": null}
      }
    },
    {
      "data": {"values": [{}]},
      "mark": {"type": "text", "text": ", PRL 86:596, 2001.", "font": "Liberation Serif", "fontWeight": "bold", "fontSize": 27, "color": "#1448d6", "align": "left", "baseline": "alphabetic"},
      "encoding": {
        "x": {"datum": 0.5042, "type": "quantitative", "scale": {"type": "log", "domain": [0.001, 1000], "nice": false}, "axis": null},
        "y": {"datum": 507, "type": "quantitative", "scale": {"type": "log", "domain": [0.1, 1000], "nice": false}, "axis": null}
      }
    },
    {
      "data": {"values": [{}]},
      "mark": {"type": "text", "text": "x < 0.01", "font": "Liberation Sans", "fontWeight": "bold", "fontSize": 38, "color": "#ff2d00", "align": "left", "baseline": "alphabetic"},
      "encoding": {
        "x": {"datum": 2.185, "type": "quantitative", "scale": {"type": "log", "domain": [0.001, 1000], "nice": false}, "axis": null},
        "y": {"datum": 164.4, "type": "quantitative", "scale": {"type": "log", "domain": [0.1, 1000], "nice": false}, "axis": null}
      }
    },
    {
      "data": {"values": [{}]},
      "mark": {"type": "text", "text": "Saturation", "font": "Liberation Serif", "fontWeight": "bold", "fontSize": 38, "color": "#ff2d00", "align": "left", "baseline": "alphabetic"},
      "encoding": {
        "x": {"datum": 0.001341, "type": "quantitative", "scale": {"type": "log", "domain": [0.001, 1000], "nice": false}, "axis": null},
        "y": {"datum": 43.68, "type": "quantitative", "scale": {"type": "log", "domain": [0.1, 1000], "nice": false}, "axis": null}
      }
    },
    {
      "data": {"values": [{}]},
      "mark": {"type": "text", "text": "~ 1/Q²", "font": "Liberation Serif", "fontWeight": "bold", "fontSize": 38, "color": "#1f40e0", "align": "left", "baseline": "alphabetic"},
      "encoding": {
        "x": {"datum": 21.38, "type": "quantitative", "scale": {"type": "log", "domain": [0.001, 1000], "nice": false}, "axis": null},
        "y": {"datum": 13.7, "type": "quantitative", "scale": {"type": "log", "domain": [0.1, 1000], "nice": false}, "axis": null}
      }
    },
    {
      "data": {"values": [{}]},
      "mark": {"type": "text", "text": "x<0.01", "font": "Liberation Serif", "fontWeight": "bold", "fontSize": 14.5, "color": "black", "align": "left", "baseline": "alphabetic"},
      "encoding": {
        "x": {"datum": 0.01011, "type": "quantitative", "scale": {"type": "log", "domain": [0.001, 1000], "nice": false}, "axis": null},
        "y": {"datum": 0.402, "type": "quantitative", "scale": {"type": "log", "domain": [0.1, 1000], "nice": false}, "axis": null}
      }
    },
    {
      "data": {"values": [{}]},
      "mark": {"type": "text", "text": "all Q²", "font": "Liberation Serif", "fontWeight": "bold", "fontSize": 14.5, "color": "black", "align": "left", "baseline": "alphabetic"},
      "encoding": {
        "x": {"datum": 0.01011, "type": "quantitative", "scale": {"type": "log", "domain": [0.001, 1000], "nice": false}, "axis": null},
        "y": {"datum": 0.2658, "type": "quantitative", "scale": {"type": "log", "domain": [0.1, 1000], "nice": false}, "axis": null}
      }
    },
    {
      "data": {"values": [{}]},
      "mark": {"type": "text", "text": "tot", "font": "Liberation Serif", "fontWeight": "bold", "fontSize": 22, "color": "#ff2d00", "align": "left", "baseline": "alphabetic", "angle": 270},
      "encoding": {
        "x": {"datum": 0.0003886, "type": "quantitative", "scale": {"type": "log", "domain": [0.001, 1000], "nice": false}, "axis": null},
        "y": {"datum": 498.6, "type": "quantitative", "scale": {"type": "log", "domain": [0.1, 1000], "nice": false}, "axis": null}
      }
    }
  ]
}
